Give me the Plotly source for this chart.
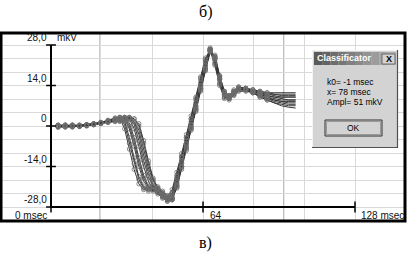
import plotly.graph_objects as go

# ---------------- data ----------------
t_ms = [3, 6, 9, 12, 15, 18, 21, 24, 27,
        29, 31, 33, 35, 37, 39, 41, 43, 45, 47, 49, 51, 53, 55, 57, 59, 61, 63, 65, 67, 69, 71, 73, 75, 77, 79,
        82, 85, 88, 91, 94, 97, 100, 103]

trace_a = [0.2, -0.2, 0.3, 0, 0.5, 0.8, 1.2, 1.8, 2.5,
           3, -1, -8, -15, -20, -22, -21.5, -21, -21.5, -23, -24.5, -22, -16, -9.5, -3, 3.5, 10, 17, 23.5, 26, 21, 14, 9.5, 10.5, 12.5, 13,
           12.5, 12, 11.5, 11, 10.5, 10, 10, 10]
trace_b = [-0.3, 0, -0.2, 0.2, 0.3, 0.5, 1.0, 1.6, 2.4,
           2.8, 1.5, -4, -11, -17.5, -21, -22, -21, -22, -23.5, -25, -23, -17, -10.5, -4, 2.5, 9, 16, 22.5, 26.5, 22, 15, 10, 10, 12, 13.5,
           13, 12, 11, 10.5, 10, 9.5, 9, 9]
trace_c = [0, 0.3, 0, -0.2, 0.2, 0.7, 1.3, 2.0, 2.8,
           3, 2.5, -1, -7, -14, -19, -21.5, -22, -22.5, -24, -25.5, -24, -18, -11, -5, 1.5, 8, 15, 22, 26, 23, 16, 11, 9.5, 11.5, 13,
           13, 12.5, 12, 11.5, 11.5, 11.5, 11.5, 11.5]
trace_d = [0.3, 0, 0.2, 0.3, 0, 0.4, 0.9, 1.5, 2.2,
           2.5, 3, 1, -4, -11, -17, -21, -22.5, -23, -24.5, -26, -25, -19, -12, -6, 0.5, 7, 14, 21, 26.5, 23.5, 16.5, 11, 9, 11, 12.5,
           12.5, 12, 11, 10, 9, 8.5, 8.5, 8.5]
trace_e = [-0.5, -0.3, 0, 0, 0.3, 0.6, 1.0, 1.5, 2.0,
           2, 3, 2.5, -1, -7, -14, -19, -22, -23.5, -25, -26, -25.5, -20, -13, -6.5, 0, 6.5, 13.5, 20.5, 27, 23, 16, 11, 9.5, 10.5, 12,
           12, 11.5, 10.5, 9.5, 8.5, 8, 7.5, 7.5]
trace_f = [0, -0.2, -0.4, 0, 0.4, 0.8, 1.1, 1.7, 2.2,
           2.3, 2.8, 3, 1.5, -3, -10, -16, -20.5, -23, -24.5, -25.5, -25, -20.5, -14, -7, -0.5, 6, 13, 20, 26.5, 23.5, 16.5, 11.5, 10, 11, 12.5,
           12.5, 11.5, 10, 9, 8, 7, 6.5, 6.2]
trace_g = [0.2, 0.4, 0.2, 0, 0.2, 0.5, 1.0, 1.4, 1.9,
           2, 2.5, 3, 2.5, 0, -6, -13, -18.5, -22, -24, -25, -25.5, -21, -14.5, -8, -1, 5.5, 12.5, 19.5, 26, 24, 17, 12, 10.5, 11.5, 13,
           13, 12.5, 12, 11.5, 11, 10.5, 10.5, 10.5]
trace_h = [-0.2, 0, 0.3, 0.2, 0.4, 0.6, 0.8, 1.3, 1.7,
           1.8, 2.2, 2.8, 2.5, 0.8, -5, -12, -18, -21.5, -23.5, -24.5, -25, -21.5, -15, -8.5, -1.5, 5, 12, 19, 25.5, 24.5, 17.5, 12, 10.5, 12, 13.5,
           13, 12, 11, 10, 9.5, 9, 9, 9]
trace_i = [0, -0.4, -0.2, 0.1, 0.2, 0.5, 0.9, 1.2, 1.5,
           1.5, 2, 2.5, 1.5, -1.5, -8, -14.5, -19, -21, -22.5, -24, -24.5, -21, -14, -7.5, -1, 5.5, 12.5, 19.5, 26, 24, 17, 11.5, 10, 11.5, 13,
           13, 12.5, 11.5, 10.5, 10, 10, 10, 10]
trace_j = [0.1, 0.2, -0.1, 0.1, 0.4, 0.7, 1.1, 1.7, 2.4,
           2.9, 0.5, -6, -13, -18.5, -21.5, -22.5, -22, -22, -23.5, -25, -23.5, -17.5, -10.5, -4, 2.5, 9.5, 16.5, 23, 26.5, 21.5, 14.5, 10, 10, 12, 13,
           12.5, 11.5, 10.5, 9.5, 9, 8.5, 8, 8]
trace_k = [-0.2, 0.1, 0.3, -0.1, 0.1, 0.5, 1.0, 1.6, 2.3,
           2.7, 3, 0, -5.5, -12.5, -18, -21, -22, -22.5, -24, -25.5, -25, -19.5, -12.5, -6, 0.5, 7, 14, 21, 26.5, 23.5, 16.5, 11, 9.5, 11, 12.5,
           12.5, 12, 11.5, 11, 11, 11, 11, 11]
trace_l = [0.3, 0.1, 0, 0.3, 0.5, 0.7, 1.0, 1.5, 2.1,
           2.4, 2.7, 2.8, 0.5, -5, -12, -17.5, -21, -23, -24.5, -25.5, -25.5, -20.5, -14, -7.5, -0.5, 6, 13, 20, 26, 24, 17, 11.5, 10, 11.5, 13,
           12.5, 11.5, 10, 9, 8, 7.5, 7, 7]

traces = [trace_a, trace_b, trace_c, trace_d, trace_e, trace_f,
          trace_g, trace_h, trace_i, trace_j, trace_k, trace_l]

marker_until_ms = 91

y_ticks = [28, 14, 0, -14, -28]
y_tick_labels = ["28,0", "14,0", "0", "-14,0", "-28,0"]
y_unit = "mkV"
x_ticks = [0, 64, 128]
x_tick_labels = ["0 msec", "64", "128 msec"]
grid_x_ms = [42.667, 64, 85.333, 106.667, 128]
grid_y_step = 14 / 3
cursor_ms = [20.6, 98]

dialog_title = "Classificator"
dialog_lines = ["k0= -1 msec", "x= 78 msec", "Ampl= 51 mkV"]
dialog_button = "OK"
top_caption = "б)"
bottom_caption = "в)"

# ---------------- layout helpers ----------------
W, H = 407, 259
ML, MR, MT, MB = 1, 2, 33, 38


def px(x):
    return (x - ML) / (W - ML - MR)


def py(y):
    return (H - MB - y) / (H - MT - MB)


fig = go.Figure()

for vals in traces:
    fig.add_trace(go.Scatter(x=t_ms, y=vals, mode="lines",
                             line=dict(color="#383838", width=1.0),
                             hoverinfo="skip", showlegend=False))
for vals in traces:
    xs = [t for t in t_ms if t <= marker_until_ms]
    ys = vals[:len(xs)]
    fig.add_trace(go.Scatter(x=xs, y=ys, mode="markers",
                             marker=dict(symbol="circle-open", size=4.2, color="#6c6c6c",
                                         line=dict(width=0.8, color="#6c6c6c")),
                             hoverinfo="skip", showlegend=False))

# axis tick crosses
fig.add_trace(go.Scatter(x=[0] * len(y_ticks), y=y_ticks, mode="markers",
                         marker=dict(symbol="line-ew-open", size=7, color="black",
                                     line=dict(width=1.5, color="black")),
                         hoverinfo="skip", showlegend=False))
fig.add_trace(go.Scatter(x=x_ticks, y=[y_ticks[-1]] * len(x_ticks), mode="markers",
                         marker=dict(symbol="line-ns-open", size=8, color="black",
                                     line=dict(width=1.5, color="black")),
                         hoverinfo="skip", showlegend=False))

shapes = []
for c in cursor_ms:
    shapes.append(dict(type="line", xref="x", yref="paper", x0=c, x1=c, y0=0, y1=1,
                       line=dict(color="#a8a8a8", width=1), layer="below"))
# axes
shapes.append(dict(type="line", xref="x", yref="y", x0=0, x1=0, y0=y_ticks[-1], y1=y_ticks[0],
                   line=dict(color="black", width=2)))
shapes.append(dict(type="line", xref="x", yref="y", x0=x_ticks[0], x1=x_ticks[-1], y0=y_ticks[-1], y1=y_ticks[-1],
                   line=dict(color="black", width=2)))
# frame
shapes.append(dict(type="rect", xref="paper", yref="paper", x0=0, x1=1, y0=0, y1=1,
                   line=dict(color="black", width=3)))

# dialog body
shapes.append(dict(type="rect", xref="paper", yref="paper", x0=px(312), x1=px(398), y0=py(148), y1=py(50),
                   fillcolor="#d3d3d3", line=dict(width=0)))
shapes.append(dict(type="line", xref="paper", yref="paper", x0=px(312), x1=px(398), y0=py(50.5), y1=py(50.5),
                   line=dict(color="#f4f4f4", width=1)))
shapes.append(dict(type="line", xref="paper", yref="paper", x0=px(312.5), x1=px(312.5), y0=py(148), y1=py(50),
                   line=dict(color="#f4f4f4", width=1)))
shapes.append(dict(type="line", xref="paper", yref="paper", x0=px(312), x1=px(398), y0=py(147.5), y1=py(147.5),
                   line=dict(color="#505050", width=1.2)))
shapes.append(dict(type="line", xref="paper", yref="paper", x0=px(397.5), x1=px(397.5), y0=py(148), y1=py(50),
                   line=dict(color="#505050", width=1.2)))
# title bar gradient
n_strips = 10
for i in range(n_strips):
    g = int(0x5a + (0xb0 - 0x5a) * i / (n_strips - 1))
    col = "#%02x%02x%02x" % (g, g, g)
    x0 = 314 + (396 - 314) * i / n_strips
    x1 = 314 + (396 - 314) * (i + 1) / n_strips
    shapes.append(dict(type="rect", xref="paper", yref="paper", x0=px(x0), x1=px(x1), y0=py(65), y1=py(52),
                       fillcolor=col, line=dict(width=0)))
# close button
shapes.append(dict(type="rect", xref="paper", yref="paper", x0=px(382), x1=px(395), y0=py(64), y1=py(54),
                   fillcolor="#d3d3d3", line=dict(color="#555555", width=0.8)))
# OK button
shapes.append(dict(type="rect", xref="paper", yref="paper", x0=px(325), x1=px(382), y0=py(136), y1=py(120),
                   fillcolor="#d3d3d3", line=dict(color="#303030", width=1)))
shapes.append(dict(type="rect", xref="paper", yref="paper", x0=px(326.5), x1=px(380.5), y0=py(134.5), y1=py(121.5),
                   fillcolor="#d3d3d3", line=dict(color="#8a8a8a", width=0.8)))

annotations = []
for v, lab in zip(y_ticks, y_tick_labels):
    annotations.append(dict(x=0, y=v, xref="x", yref="y", text=lab, showarrow=False,
                            xanchor="right", yanchor="bottom", xshift=-2, yshift=0,
                            font=dict(family="Liberation Sans, Arial", size=10, color="#111111")))
annotations.append(dict(x=0, y=y_ticks[0], xref="x", yref="y", text=y_unit, showarrow=False,
                        xanchor="left", yanchor="bottom", xshift=4, yshift=0,
                        font=dict(family="Liberation Sans, Arial", size=10, color="#111111")))
x_anchor = ["right", "left", "left"]
x_shift = [-2, 5, 4]
for v, lab, a, s in zip(x_ticks, x_tick_labels, x_anchor, x_shift):
    annotations.append(dict(x=v, y=y_ticks[-1], xref="x", yref="y", text=lab, showarrow=False,
                            xanchor=a, yanchor="top", xshift=s, yshift=-1,
                            font=dict(family="Liberation Sans, Arial", size=10, color="#111111")))

annotations.append(dict(x=px(205), y=py(12), xref="paper", yref="paper", text=top_caption, showarrow=False,
                        xanchor="center", yanchor="middle",
                        font=dict(family="Liberation Serif, Times New Roman", size=16, color="black")))
annotations.append(dict(x=px(205), y=py(243), xref="paper", yref="paper", text=bottom_caption, showarrow=False,
                        xanchor="center", yanchor="middle",
                        font=dict(family="Liberation Serif, Times New Roman", size=16, color="black")))

annotations.append(dict(x=px(315), y=py(58.5), xref="paper", yref="paper", text="<b>" + dialog_title + "</b>",
                        showarrow=False, xanchor="left", yanchor="middle",
                        font=dict(family="Liberation Sans, Arial", size=9, color="white")))
annotations.append(dict(x=px(388.5), y=py(59), xref="paper", yref="paper", text="<b>X</b>",
                        showarrow=False, xanchor="center", yanchor="middle",
                        font=dict(family="Liberation Sans, Arial", size=9, color="black")))
for i, line in enumerate(dialog_lines):
    annotations.append(dict(x=px(325), y=py(82 + 10 * i), xref="paper", yref="paper", text=line,
                            showarrow=False, xanchor="left", yanchor="middle",
                            font=dict(family="Liberation Sans, Arial", size=8.5, color="black")))
annotations.append(dict(x=px(353.5), y=py(128), xref="paper", yref="paper", text=dialog_button,
                        showarrow=False, xanchor="center", yanchor="middle",
                        font=dict(family="Liberation Sans, Arial", size=8.5, color="black")))

fig.update_layout(
    width=W, height=H,
    margin=dict(l=ML, r=MR, t=MT, b=MB, pad=0),
    paper_bgcolor="white", plot_bgcolor="white",
    showlegend=False,
    xaxis=dict(range=[-21.05, 149.05], tickvals=grid_x_ms, showticklabels=False, ticks="",
               showgrid=True, gridcolor="#d9d9d9", gridwidth=1, zeroline=False, showline=False, fixedrange=True),
    yaxis=dict(range=[-32.84, 32.15], tick0=0, dtick=grid_y_step, showticklabels=False, ticks="",
               showgrid=True, gridcolor="#d9d9d9", gridwidth=1, zeroline=False, showline=False, fixedrange=True),
    shapes=shapes,
    annotations=annotations,
)

fig.write_html("out.html", config={"displayModeBar": False},
               post_script="document.body.style.margin='0px';document.body.style.overflow='hidden';")
